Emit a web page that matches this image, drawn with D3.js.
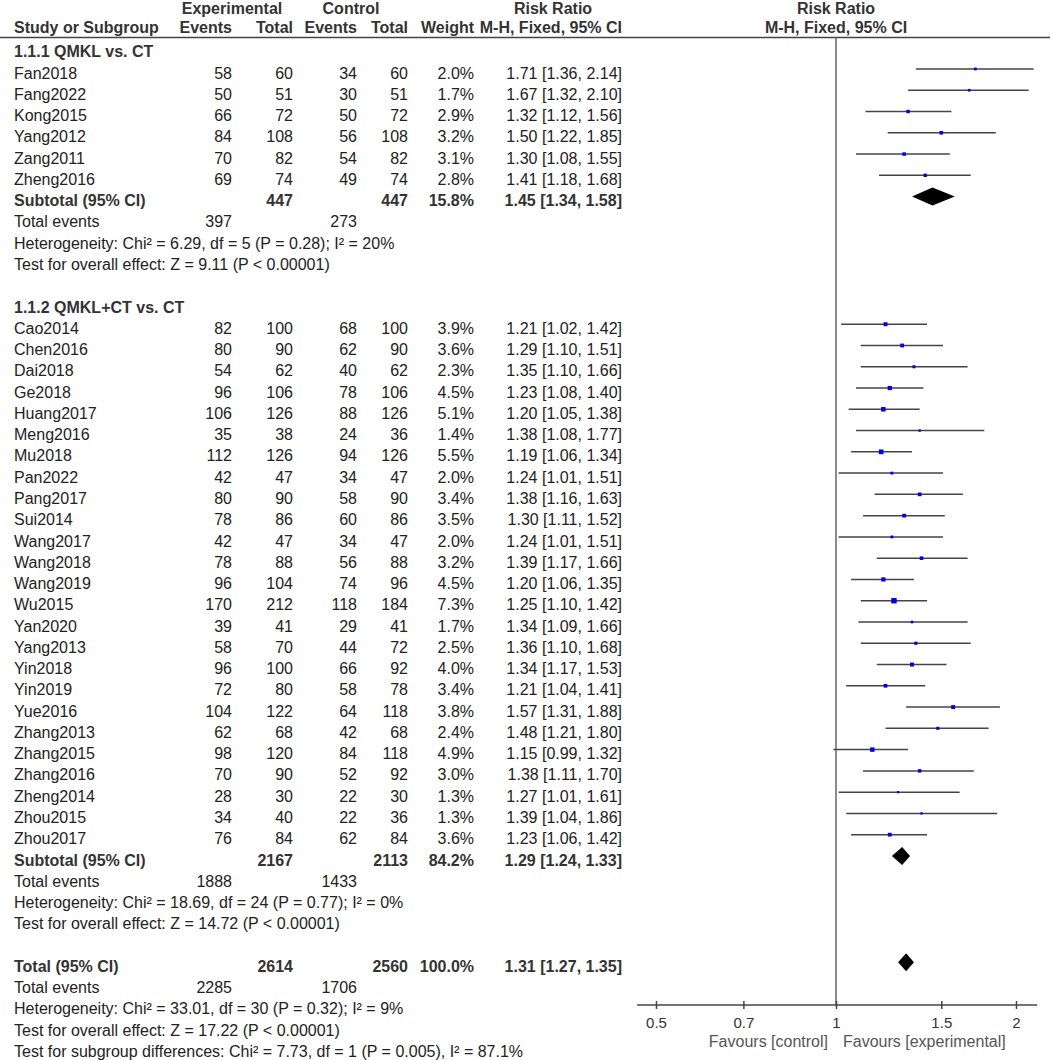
<!DOCTYPE html>
<html><head><meta charset="utf-8">
<script src="https://cdn.jsdelivr.net/npm/d3@7"></script>
<style>
body{margin:0;background:#fff;}
svg{display:block;font-family:"Liberation Sans",Arial,sans-serif;}
</style></head><body>
<svg id="chart" width="1052" height="1060"></svg>
<script>
// ---------- data ----------
const studies1 = ["Fan2018","Fang2022","Kong2015","Yang2012","Zang2011","Zheng2016"];
const expEvents1 = [58,50,66,84,70,69];
const expTotal1  = [60,51,72,108,82,74];
const ctlEvents1 = [34,30,50,56,54,49];
const ctlTotal1  = [60,51,72,108,82,74];
const weight1    = [2.0,1.7,2.9,3.2,3.1,2.8];
const rr1 = [1.71,1.67,1.32,1.50,1.30,1.41];
const lo1 = [1.36,1.32,1.12,1.22,1.08,1.18];
const hi1 = [2.14,2.10,1.56,1.85,1.55,1.68];
const subtotal1 = {expTotal:447, ctlTotal:447, weight:"15.8%", rr:1.45, lo:1.34, hi:1.58, expEv:397, ctlEv:273,
  het:"Heterogeneity: Chi\u00b2 = 6.29, df = 5 (P = 0.28); I\u00b2 = 20%",
  eff:"Test for overall effect: Z = 9.11 (P < 0.00001)"};

const studies2 = ["Cao2014","Chen2016","Dai2018","Ge2018","Huang2017","Meng2016","Mu2018","Pan2022","Pang2017","Sui2014","Wang2017","Wang2018","Wang2019","Wu2015","Yan2020","Yang2013","Yin2018","Yin2019","Yue2016","Zhang2013","Zhang2015","Zhang2016","Zheng2014","Zhou2015","Zhou2017"];
const expEvents2 = [82,80,54,96,106,35,112,42,80,78,42,78,96,170,39,58,96,72,104,62,98,70,28,34,76];
const expTotal2  = [100,90,62,106,126,38,126,47,90,86,47,88,104,212,41,70,100,80,122,68,120,90,30,40,84];
const ctlEvents2 = [68,62,40,78,88,24,94,34,58,60,34,56,74,118,29,44,66,58,64,42,84,52,22,22,62];
const ctlTotal2  = [100,90,62,106,126,36,126,47,90,86,47,88,96,184,41,72,92,78,118,68,118,92,30,36,84];
const weight2    = [3.9,3.6,2.3,4.5,5.1,1.4,5.5,2.0,3.4,3.5,2.0,3.2,4.5,7.3,1.7,2.5,4.0,3.4,3.8,2.4,4.9,3.0,1.3,1.3,3.6];
const rr2 = [1.21,1.29,1.35,1.23,1.20,1.38,1.19,1.24,1.38,1.30,1.24,1.39,1.20,1.25,1.34,1.36,1.34,1.21,1.57,1.48,1.15,1.38,1.27,1.39,1.23];
const lo2 = [1.02,1.10,1.10,1.08,1.05,1.08,1.06,1.01,1.16,1.11,1.01,1.17,1.06,1.10,1.09,1.10,1.17,1.04,1.31,1.21,0.99,1.11,1.01,1.04,1.06];
const hi2 = [1.42,1.51,1.66,1.40,1.38,1.77,1.34,1.51,1.63,1.52,1.51,1.66,1.35,1.42,1.66,1.68,1.53,1.41,1.88,1.80,1.32,1.70,1.61,1.86,1.42];
const subtotal2 = {expTotal:2167, ctlTotal:2113, weight:"84.2%", rr:1.29, lo:1.24, hi:1.33, expEv:1888, ctlEv:1433,
  het:"Heterogeneity: Chi\u00b2 = 18.69, df = 24 (P = 0.77); I\u00b2 = 0%",
  eff:"Test for overall effect: Z = 14.72 (P < 0.00001)"};

const overall = {expTotal:2614, ctlTotal:2560, weight:"100.0%", rr:1.31, lo:1.27, hi:1.35, expEv:2285, ctlEv:1706,
  het:"Heterogeneity: Chi\u00b2 = 33.01, df = 30 (P = 0.32); I\u00b2 = 9%",
  eff:"Test for overall effect: Z = 17.22 (P < 0.00001)",
  sub:"Test for subgroup differences: Chi\u00b2 = 7.73, df = 1 (P = 0.005), I\u00b2 = 87.1%"};

const groupTitles = ["1.1.1 QMKL vs. CT","1.1.2 QMKL+CT vs. CT"];
const tickValues = [0.5,0.7,1,1.5,2];
const tickLabels = ["0.5","0.7","1","1.5","2"];
const favourLeft = "Favours [control]";
const favourRight = "Favours [experimental]";

// ---------- layout ----------
const svg = d3.select("#chart");
const fs = 16;
const textCol = "#222";
const col = {study:14, expEv:232, expTot:293, ctlEv:357, ctlTot:408, weight:474, rr:622};
const x = d3.scaleLog().domain([0.5,2]).range([656,1016]);
const y = d3.scaleLinear().domain([0,47]).range([47.7, 47.7 + 21.27*47]);
const fmt2 = d3.format(".2f");
const ciText = (r,l,h) => `${fmt2(r)} [${fmt2(l)}, ${fmt2(h)}]`;

// rows
const rows = [];
rows.push({type:"title", text:groupTitles[0]});
studies1.forEach((s,i)=>rows.push({type:"study", name:s, a:expEvents1[i], b:expTotal1[i], c:ctlEvents1[i], d:ctlTotal1[i], w:weight1[i], rr:rr1[i], lo:lo1[i], hi:hi1[i]}));
rows.push({type:"sub", name:"Subtotal (95% CI)", ...subtotal1});
rows.push({type:"events", ...subtotal1});
rows.push({type:"note", text:subtotal1.het});
rows.push({type:"note", text:subtotal1.eff});
rows.push({type:"blank"});
rows.push({type:"title", text:groupTitles[1]});
studies2.forEach((s,i)=>rows.push({type:"study", name:s, a:expEvents2[i], b:expTotal2[i], c:ctlEvents2[i], d:ctlTotal2[i], w:weight2[i], rr:rr2[i], lo:lo2[i], hi:hi2[i]}));
rows.push({type:"sub", name:"Subtotal (95% CI)", ...subtotal2});
rows.push({type:"events", ...subtotal2});
rows.push({type:"note", text:subtotal2.het});
rows.push({type:"note", text:subtotal2.eff});
rows.push({type:"blank"});
rows.push({type:"sub", name:"Total (95% CI)", ...overall});
rows.push({type:"events", ...overall});
rows.push({type:"note", text:overall.het});
rows.push({type:"note", text:overall.eff});
rows.push({type:"note", text:overall.sub});

// ---------- header ----------
const hdr = svg.append("g").attr("font-size",fs).attr("font-weight","bold").attr("fill","#333");
const hy1 = 14, hy2 = 32.5;
hdr.append("text").attr("x",232).attr("y",hy1).attr("text-anchor","middle").text("Experimental");
hdr.append("text").attr("x",351).attr("y",hy1).attr("text-anchor","middle").text("Control");
hdr.append("text").attr("x",553).attr("y",hy1).attr("text-anchor","middle").text("Risk Ratio");
hdr.append("text").attr("x",x(1)).attr("y",hy1).attr("text-anchor","middle").text("Risk Ratio");
hdr.append("text").attr("x",col.study).attr("y",hy2).text("Study or Subgroup");
[["Events",col.expEv],["Total",col.expTot],["Events",col.ctlEv],["Total",col.ctlTot],["Weight",col.weight]].forEach(([t,cx])=>{
  hdr.append("text").attr("x",cx).attr("y",hy2).attr("text-anchor","end").text(t);
});
hdr.append("text").attr("x",col.rr).attr("y",hy2).attr("text-anchor","end").text("M-H, Fixed, 95% CI");
hdr.append("text").attr("x",x(1)).attr("y",hy2).attr("text-anchor","middle").text("M-H, Fixed, 95% CI");
svg.append("line").attr("x1",0).attr("x2",1050).attr("y1",37.5).attr("y2",37.5).attr("stroke","#444").attr("stroke-width",1.5);

// ---------- null line ----------
const axisY = 1005;
svg.append("line").attr("x1",x(1)).attr("x2",x(1)).attr("y1",37.5).attr("y2",axisY).attr("stroke","#666").attr("stroke-width",1.5);

// ---------- rows ----------
const body = svg.append("g").attr("font-size",fs).attr("fill",textCol);
const base = 9.6;
rows.forEach((r,i)=>{
  const ry = y(i);
  const ty = ry + base;
  const rt = (t,cx,bold)=>body.append("text").attr("x",cx).attr("y",ty).attr("text-anchor","end").attr("font-weight",bold?"bold":null).text(t);
  if(r.type==="title"){
    body.append("text").attr("x",col.study).attr("y",ty).attr("font-weight","bold").attr("fill","#333").text(r.text);
  } else if(r.type==="study"){
    body.append("text").attr("x",col.study).attr("y",ty).text(r.name);
    rt(r.a,col.expEv); rt(r.b,col.expTot); rt(r.c,col.ctlEv); rt(r.d,col.ctlTot);
    rt(r.w.toFixed(1)+"%",col.weight); rt(ciText(r.rr,r.lo,r.hi),col.rr);
    svg.append("line").attr("x1",x(r.lo)).attr("x2",x(r.hi)).attr("y1",ry).attr("y2",ry).attr("stroke","#444").attr("stroke-width",1.5);
    const s = 2.0*Math.sqrt(r.w);
    svg.append("rect").attr("x",x(r.rr)-s/2).attr("y",ry-s/2).attr("width",s).attr("height",s).attr("fill","#0000ee");
  } else if(r.type==="sub"){
    body.append("text").attr("x",col.study).attr("y",ty).attr("font-weight","bold").attr("fill","#333").text(r.name);
    const g = (t,cx)=>rt(t,cx,true).attr("fill","#333");
    g(r.expTotal,col.expTot); g(r.ctlTotal,col.ctlTot); g(r.weight,col.weight); g(ciText(r.rr,r.lo,r.hi),col.rr);
    const h = 9;
    const pts = [[x(r.lo),ry],[x(r.rr),ry-h],[x(r.hi),ry],[x(r.rr),ry+h]];
    svg.append("path").attr("d",d3.line()(pts)+"Z").attr("fill","#000");
  } else if(r.type==="events"){
    body.append("text").attr("x",col.study).attr("y",ty).text("Total events");
    rt(r.expEv,col.expEv); rt(r.ctlEv,col.ctlEv);
  } else if(r.type==="note"){
    body.append("text").attr("x",col.study).attr("y",ty).text(r.text);
  }
});

// ---------- axis ----------
const ax = svg.append("g").attr("transform",`translate(0,${axisY})`);
ax.append("line").attr("x1",x(0.465)).attr("x2",x(2.17)).attr("stroke","#444").attr("stroke-width",1.5);
const axis = d3.axisBottom(x).tickValues(tickValues).tickFormat((d,i)=>tickLabels[i]).tickSize(4).tickSizeOuter(0);
const ag = ax.append("g").call(axis);
ag.select(".domain").remove();
ag.selectAll(".tick line").attr("y1",-4).attr("y2",4).attr("stroke","#444").attr("stroke-width",1.5);
ag.selectAll(".tick text").attr("font-size",15).attr("font-family","Liberation Sans, Arial, sans-serif").attr("fill","#333").attr("y",12).attr("dy","0.71em");
ax.append("text").attr("x",x(1)-8).attr("y",42).attr("text-anchor","end").attr("font-size",fs).attr("fill","#555").text(favourLeft);
ax.append("text").attr("x",x(1)+7).attr("y",42).attr("font-size",fs).attr("fill","#555").text(favourRight);
</script>
</body></html>
